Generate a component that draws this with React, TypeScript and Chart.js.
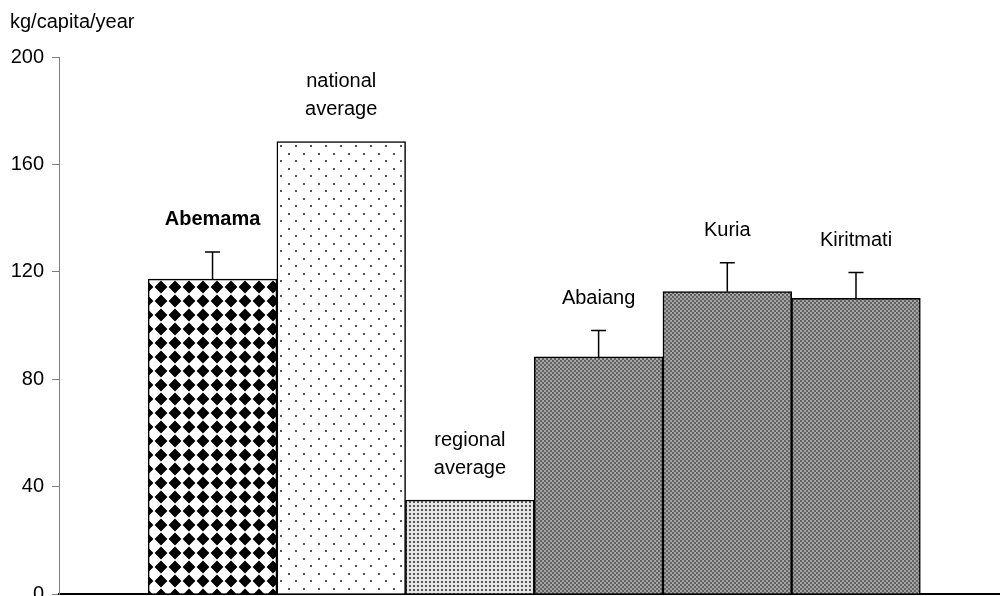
import React, { useEffect, useRef } from "react";
import { Chart, registerables } from "chart.js";

Chart.register(...registerables);

const categories = ["Abemama", "national average", "regional average", "Abaiang", "Kuria", "Kiritmati"];
const labelLines = [["Abemama"], ["national", "average"], ["regional", "average"], ["Abaiang"], ["Kuria"], ["Kiritmati"]];
const boldLabel = [true, false, false, false, false, false];
const values = [117.3, 168.5, 35, 88.3, 112.6, 110.1];
const errors = [10.1, 0, 0, 9.8, 10.8, 9.6];
const yTicks = [0, 40, 80, 120, 160, 200];
const yTitle = "kg/capita/year";
const patternKind = ["diamond", "sparse", "fine", "dark", "dark", "dark"];

const FONT = "'Liberation Sans', Arial, sans-serif";

function makePattern(kind: string): CanvasPattern | string {
  const c = document.createElement("canvas");
  const ctx = c.getContext("2d")!;
  if (kind === "diamond") {
    c.width = 14; c.height = 14;
    ctx.fillStyle = "#fff"; ctx.fillRect(0, 0, 14, 14);
    ctx.fillStyle = "#000";
    ctx.beginPath();
    ctx.moveTo(7, 0.6); ctx.lineTo(13.4, 7); ctx.lineTo(7, 13.4); ctx.lineTo(0.6, 7); ctx.closePath();
    ctx.fill();
  } else if (kind === "sparse") {
    c.width = 15; c.height = 15;
    ctx.fillStyle = "#fff"; ctx.fillRect(0, 0, 15, 15);
    ctx.fillStyle = "#555";
    ctx.fillRect(3, 3, 2, 2);
    ctx.fillRect(10, 10, 2, 2);
  } else if (kind === "fine") {
    c.width = 4; c.height = 4;
    ctx.fillStyle = "#e6e6e6"; ctx.fillRect(0, 0, 4, 4);
    ctx.fillStyle = "#555";
    ctx.fillRect(1, 1, 2, 2);
  } else {
    c.width = 4; c.height = 4;
    ctx.fillStyle = "#a6a6a6"; ctx.fillRect(0, 0, 4, 4);
    ctx.fillStyle = "#626262";
    ctx.fillRect(0, 0, 2, 2);
    ctx.fillRect(2, 2, 2, 2);
  }
  const p = ctx.createPattern(c, "repeat");
  return p || "#888";
}

const annotPlugin = {
  id: "annot",
  afterDatasetsDraw(chart: any) {
    const ctx = chart.ctx as CanvasRenderingContext2D;
    const xs = chart.scales.x;
    const ys = chart.scales.y;
    ctx.save();
    ctx.strokeStyle = "#000";
    ctx.lineWidth = 1.5;
    values.forEach((v, i) => {
      const e = errors[i];
      const cx = xs.getPixelForValue(i);
      if (e > 0) {
        const y0 = ys.getPixelForValue(v);
        const y1 = ys.getPixelForValue(v + e);
        ctx.beginPath();
        ctx.moveTo(cx, y0);
        ctx.lineTo(cx, y1);
        ctx.moveTo(cx - 7.5, y1);
        ctx.lineTo(cx + 7.5, y1);
        ctx.stroke();
      }
      const topY = ys.getPixelForValue(v + e);
      const lines = labelLines[i];
      ctx.fillStyle = "#000";
      ctx.textAlign = "center";
      ctx.textBaseline = "middle";
      ctx.font = (boldLabel[i] ? "bold " : "") + "20px " + FONT;
      lines.forEach((ln, k) => {
        const y = topY - 32 - (lines.length - 1 - k) * 28;
        ctx.fillText(ln, cx, y);
      });
    });
    ctx.font = "20px " + FONT;
    ctx.textAlign = "left";
    ctx.textBaseline = "middle";
    ctx.fillText(yTitle, chart.chartArea.left - 49, chart.chartArea.top - 35);
    ctx.restore();
  },
};

export default function App() {
  const ref = useRef<HTMLCanvasElement>(null);
  useEffect(() => {
    document.body.style.margin = "0";
    const canvas = ref.current!;
    const chart = new Chart(canvas, {
      type: "bar",
      data: {
        labels: categories,
        datasets: [
          {
            data: values.map((v, i) => ({ x: i, y: v })),
            backgroundColor: patternKind.map(makePattern) as any,
            borderColor: "#000",
            borderWidth: 1.5,
            barPercentage: 1,
            categoryPercentage: 1,
          },
        ],
      },
      options: {
        animation: false,
        responsive: false,
        maintainAspectRatio: false,
        layout: { padding: { left: 0, right: 0, top: 57, bottom: 2 } },
        plugins: { legend: { display: false }, tooltip: { enabled: false }, title: { display: false } },
        scales: {
          x: {
            type: "linear",
            offset: false,
            min: -1.193,
            max: 6.119,
            grid: { display: false, drawTicks: false },
            border: { display: true, color: "#000", width: 2 },
            ticks: { display: false },
            afterFit: (s: any) => { s.height = 0; s.paddingLeft = 0; s.paddingRight = 0; },
          },
          y: {
            min: 0,
            max: 200,
            afterBuildTicks: (s: any) => { s.ticks = yTicks.map((v) => ({ value: v })); },
            grid: { drawOnChartArea: false, drawTicks: true, tickLength: 7, color: "#808080" },
            border: { display: true, color: "#808080", width: 1 },
            ticks: { color: "#000", padding: 8, font: { family: FONT, size: 20 } },
            afterFit: (s: any) => { s.width = 59; s.paddingTop = 0; s.paddingBottom = 0; },
          },
        },
      },
      plugins: [annotPlugin],
    } as any);
    return () => chart.destroy();
  }, []);
  return <canvas ref={ref} width={1000} height={596} style={{ display: "block" }} />;
}
